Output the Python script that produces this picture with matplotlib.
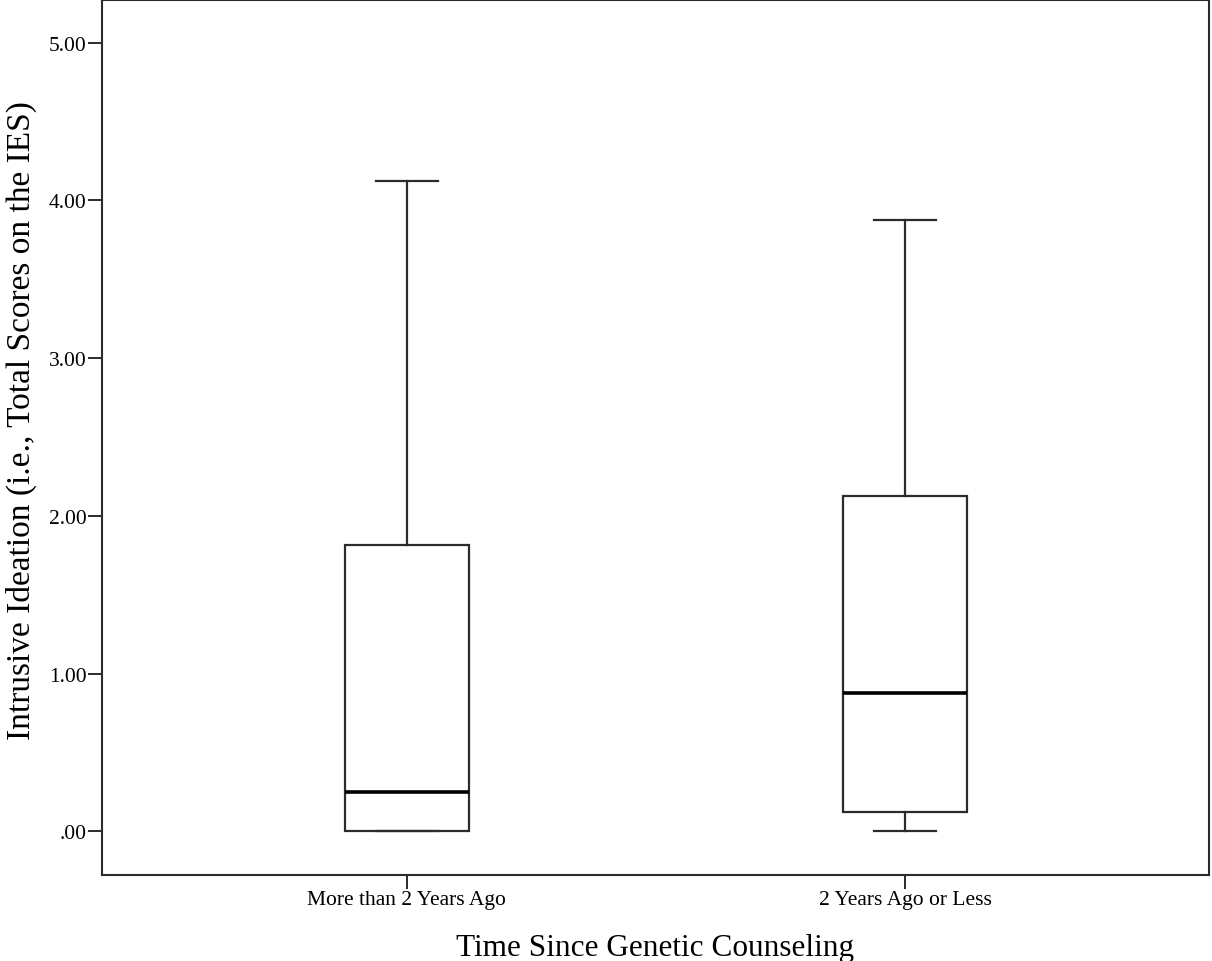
import matplotlib.pyplot as plt
from matplotlib.ticker import FuncFormatter

plt.rcParams['font.family'] = ['Liberation Serif', 'DejaVu Serif']

# five-number summaries per group
groups = ["More than 2 Years Ago", "2 Years Ago or Less"]
whisker_lo = [0.0, 0.0]
q1 = [0.0, 0.125]
medians = [0.25, 0.875]
q3 = [1.8125, 2.125]
whisker_hi = [4.125, 3.875]

stats = []
for i, name in enumerate(groups):
    stats.append({
        "label": name,
        "whislo": whisker_lo[i],
        "q1": q1[i],
        "med": medians[i],
        "q3": q3[i],
        "whishi": whisker_hi[i],
        "fliers": [],
    })

fig = plt.figure(figsize=(12.12, 9.62), dpi=100)
ax = fig.add_axes([0.0842, 0.0894, 0.9133, 0.9096])

line_col = "#2b2b2b"
ax.bxp(stats, positions=[1, 2], widths=0.25, capwidths=0.125,
       patch_artist=True, showfliers=False,
       boxprops=dict(facecolor="white", edgecolor=line_col, linewidth=1.6),
       medianprops=dict(color="black", linewidth=2.6),
       whiskerprops=dict(color=line_col, linewidth=1.6),
       capprops=dict(color=line_col, linewidth=1.6))

ax.set_xlim(0.388, 2.61)
ax.set_ylim(-0.277, 5.271)
ax.set_yticks([0, 1, 2, 3, 4, 5])


def spss_fmt(v, pos):
    s = f"{v:.2f}"
    return s[1:] if s.startswith("0") else s


ax.yaxis.set_major_formatter(FuncFormatter(spss_fmt))
ax.tick_params(axis="both", direction="out", length=10, width=1.4,
               color=line_col, labelsize=15.5, pad=1)
for sp in ax.spines.values():
    sp.set_color(line_col)
    sp.set_linewidth(1.5)

ax.set_xlabel("Time Since Genetic Counseling", fontsize=22.5)
ax.xaxis.set_label_coords(0.5, -0.066)
ax.set_ylabel("Intrusive Ideation (i.e., Total Scores on the IES)",
              fontsize=24)
ax.yaxis.set_label_coords(-0.059, 0.52)

fig.savefig("out.png", dpi=100)
